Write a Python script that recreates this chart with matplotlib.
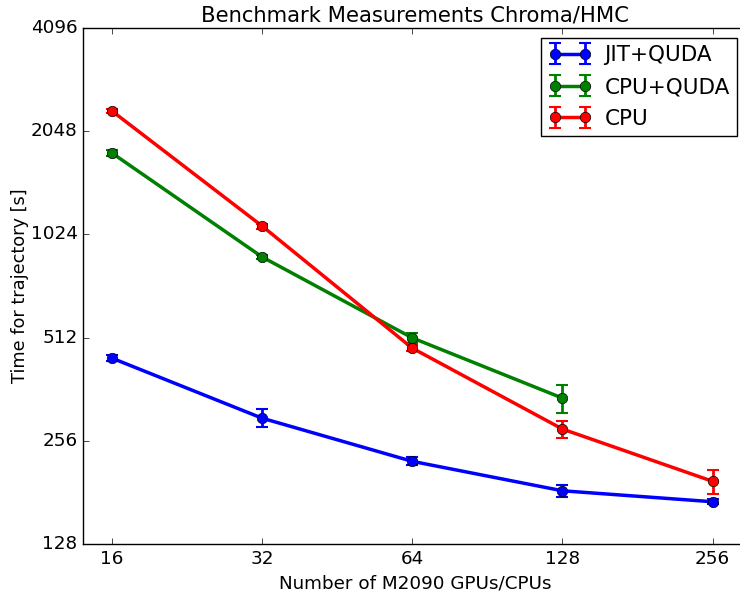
import matplotlib
matplotlib.use("Agg")
import matplotlib.pyplot as plt
from matplotlib.ticker import FixedLocator, NullLocator

plt.style.use("classic")

# values
gpus = [16, 32, 64, 128, 256]
jit_quda = [446, 298, 223, 183, 170]
jit_quda_err = [9, 18, 6, 7, 3]
cpu_quda = [1769, 880, 511, 341]
cpu_quda_err = [35, 12, 16, 32]
cpu = [2346, 1083, 477, 277, 195]
cpu_err = [30, 18, 10, 16, 16]

yticks = [128, 256, 512, 1024, 2048, 4096]

fig = plt.figure(figsize=(7.4, 5.94), dpi=100, facecolor="white")
ax = fig.add_axes([83 / 740, 50 / 594, 664 / 740, 516 / 594])
ax.set_facecolor("white")

style = dict(lw=2.5, marker="o", ms=7.5, mec="black", capsize=4, elinewidth=2, capthick=1.5)
ax.errorbar(gpus, jit_quda, yerr=jit_quda_err, color="blue", label="JIT+QUDA", **style)
ax.errorbar(gpus[:4], cpu_quda, yerr=cpu_quda_err, color="green", label="CPU+QUDA", **style)
ax.errorbar(gpus, cpu, yerr=cpu_err, color="red", label="CPU", **style)

ax.set_xscale("log", base=2)
ax.set_yscale("log", base=2)
ax.set_xlim(14, 300)
ax.set_ylim(128, 4096)
ax.xaxis.set_major_locator(FixedLocator(gpus))
ax.yaxis.set_major_locator(FixedLocator(yticks))
ax.xaxis.set_minor_locator(NullLocator())
ax.yaxis.set_minor_locator(NullLocator())
ax.set_xticklabels([str(g) for g in gpus])
ax.set_yticklabels([str(t) for t in yticks])
ax.tick_params(which="major", direction="in", length=4, top=True, right=True,
               labelsize=13.2, pad=4)

ax.set_title("Benchmark Measurements Chroma/HMC", fontsize=15.2)
ax.set_xlabel("Number of M2090 GPUs/CPUs", fontsize=13.2)
ax.set_ylabel("Time for trajectory [s]", fontsize=12.8, labelpad=1)
ax.legend(loc="upper right", numpoints=2, fontsize=15.5, fancybox=False,
          handlelength=2.0, handletextpad=0.6, borderpad=0.35, labelspacing=0.55,
          borderaxespad=0.45)

fig.savefig("out.png", dpi=100, facecolor="white")
